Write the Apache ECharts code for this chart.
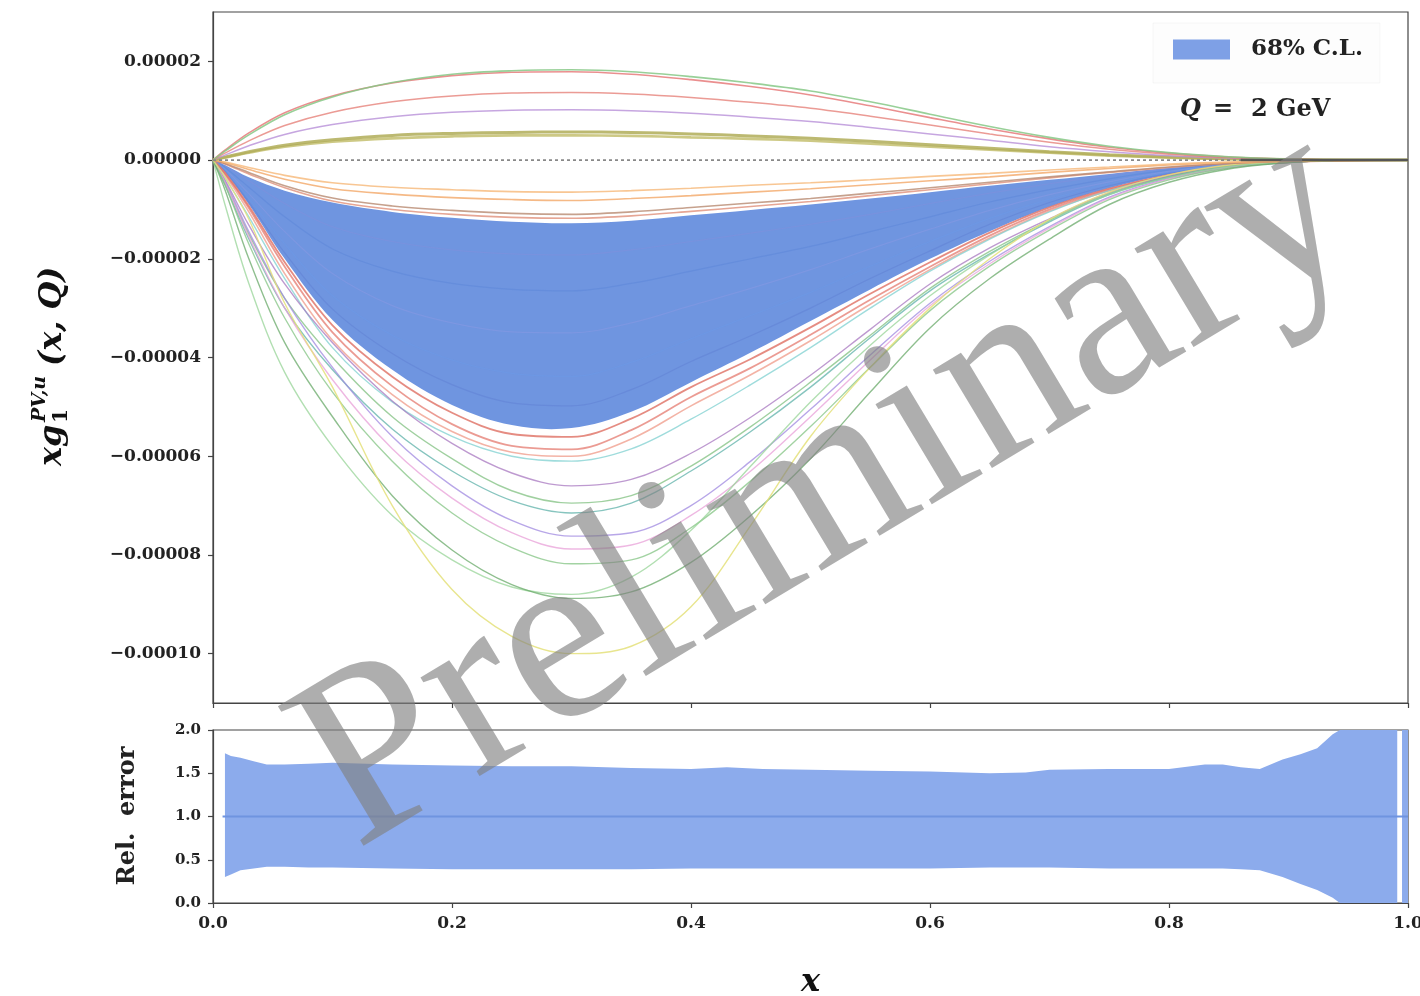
<!DOCTYPE html>
<html><head><meta charset="utf-8">
<script src="https://cdn.jsdelivr.net/npm/echarts@6/dist/echarts.min.js"></script>
<style>html,body{margin:0;padding:0;background:#fff}#c{width:1420px;height:996px}</style>
</head><body><div id="c"></div>
<script>
// ---------- data (top panel values in units of 1e-5) ----------
const X = [0,0.01,0.03,0.06,0.1,0.15,0.2,0.25,0.3,0.35,0.4,0.45,0.5,0.55,0.6,0.65,0.7,0.75,0.8,0.85,0.9,0.95,1.0];
const BAND_LO = [0,-0.25,-0.9,-2.0,-3.24,-4.25,-4.96,-5.37,-5.43,-5.1,-4.5,-3.9,-3.26,-2.62,-2.0,-1.44,-0.95,-0.57,-0.29,-0.12,-0.04,-0.01,0];
const BAND_HI = [0,-0.1,-0.35,-0.62,-0.86,-1.05,-1.17,-1.25,-1.28,-1.23,-1.12,-1.01,-0.9,-0.78,-0.65,-0.52,-0.4,-0.28,-0.16,-0.08,-0.03,-0.01,0];
// replicas inside the band
const B1 = [0,-0.12,-0.42,-0.88,-1.35,-1.65,-1.82,-1.9,-1.92,-1.82,-1.65,-1.48,-1.3,-1.1,-0.88,-0.67,-0.48,-0.31,-0.17,-0.07,-0.02,0,0];
const B2 = [0,-0.15,-0.55,-1.15,-1.8,-2.25,-2.5,-2.62,-2.65,-2.5,-2.25,-2.0,-1.75,-1.45,-1.15,-0.85,-0.6,-0.38,-0.2,-0.08,-0.03,0,0];
const B3 = [0,-0.18,-0.68,-1.45,-2.3,-2.95,-3.3,-3.48,-3.5,-3.3,-2.95,-2.6,-2.22,-1.8,-1.4,-1.02,-0.7,-0.44,-0.23,-0.09,-0.03,0,0];
const B4 = [0,-0.2,-0.78,-1.7,-2.75,-3.55,-4.05,-4.32,-4.38,-4.1,-3.62,-3.15,-2.68,-2.15,-1.65,-1.18,-0.79,-0.48,-0.25,-0.1,-0.03,0,0];
const B5 = [0,-0.23,-0.85,-1.88,-3.02,-3.92,-4.55,-4.92,-4.98,-4.65,-4.08,-3.56,-3.0,-2.4,-1.84,-1.3,-0.86,-0.52,-0.27,-0.11,-0.035,0,0];
// positive outliers
const P1 = [0,0.18,0.51,0.92,1.28,1.57,1.74,1.81,1.83,1.79,1.69,1.56,1.40,1.18,0.93,0.68,0.46,0.28,0.15,0.065,0.02,0,0];
const P2 = [0,0.2,0.55,0.96,1.3,1.56,1.71,1.78,1.79,1.74,1.63,1.49,1.32,1.1,0.86,0.63,0.43,0.26,0.14,0.06,0.02,0,0];
const P3 = [0,0.14,0.39,0.7,0.97,1.18,1.3,1.36,1.37,1.34,1.27,1.17,1.05,0.89,0.71,0.53,0.36,0.22,0.12,0.05,0.015,0,0];
const P4 = [0,0.1,0.29,0.52,0.72,0.88,0.97,1.01,1.02,1.0,0.95,0.87,0.78,0.66,0.53,0.4,0.27,0.17,0.09,0.04,0.01,0,0];
const P5 = [0,0.06,0.17,0.3,0.41,0.5,0.54,0.56,0.57,0.56,0.53,0.49,0.44,0.38,0.31,0.24,0.17,0.11,0.06,0.025,0.01,0,0];
const P6 = [0,0.05,0.15,0.27,0.37,0.44,0.48,0.5,0.5,0.49,0.46,0.43,0.39,0.33,0.27,0.21,0.15,0.09,0.05,0.02,0.01,0,0];
// small negative outliers (above band)
const N1 = [0,-0.04,-0.15,-0.31,-0.46,-0.55,-0.6,-0.64,-0.65,-0.62,-0.57,-0.51,-0.46,-0.4,-0.33,-0.27,-0.2,-0.14,-0.08,-0.04,-0.015,0,0];
const N2 = [0,-0.05,-0.19,-0.39,-0.58,-0.69,-0.76,-0.8,-0.82,-0.78,-0.72,-0.65,-0.58,-0.5,-0.42,-0.34,-0.25,-0.17,-0.1,-0.05,-0.02,0,0];
const N3 = [0,-0.07,-0.25,-0.52,-0.77,-0.93,-1.02,-1.08,-1.1,-1.05,-0.96,-0.87,-0.78,-0.67,-0.56,-0.45,-0.34,-0.24,-0.14,-0.07,-0.025,0,0];
const N4 = [0,-0.08,-0.28,-0.56,-0.83,-1.0,-1.1,-1.16,-1.18,-1.13,-1.04,-0.94,-0.84,-0.72,-0.6,-0.48,-0.36,-0.25,-0.15,-0.07,-0.025,0,0];
// outliers just below the band
const R1 = [0,-0.26,-0.93,-2.07,-3.35,-4.39,-5.12,-5.55,-5.61,-5.24,-4.6,-4.03,-3.39,-2.71,-2.07,-1.47,-0.96,-0.58,-0.3,-0.12,-0.04,-0.01,0];
const R2 = [0,-0.27,-0.97,-2.16,-3.49,-4.58,-5.35,-5.79,-5.86,-5.47,-4.8,-4.21,-3.54,-2.83,-2.16,-1.53,-1.0,-0.6,-0.31,-0.13,-0.04,-0.01,0];
const R3 = [0,-0.3,-1.05,-2.3,-3.65,-4.75,-5.5,-5.92,-6.0,-5.65,-4.98,-4.35,-3.66,-2.92,-2.22,-1.58,-1.03,-0.62,-0.32,-0.13,-0.04,-0.01,0];
// deep outliers
const L0 = [0,-0.35,-1.15,-2.4,-3.8,-4.9,-5.6,-6.0,-6.1,-5.85,-5.25,-4.55,-3.8,-3.0,-2.25,-1.6,-1.05,-0.62,-0.32,-0.13,-0.04,0,0];
const L1 = [0,-0.4,-1.32,-2.51,-3.7,-4.88,-5.74,-6.34,-6.6,-6.47,-5.94,-5.21,-4.36,-3.43,-2.51,-1.78,-1.19,-0.66,-0.33,-0.13,-0.04,0,0];
const L2 = [0,-0.45,-1.5,-2.8,-4.0,-5.2,-6.05,-6.7,-6.95,-6.8,-6.2,-5.4,-4.5,-3.55,-2.6,-1.85,-1.22,-0.68,-0.34,-0.13,-0.04,0,0];
const L3 = [0,-0.5,-1.6,-3.0,-4.25,-5.45,-6.3,-6.9,-7.15,-6.95,-6.3,-5.5,-4.6,-3.6,-2.65,-1.9,-1.25,-0.7,-0.35,-0.14,-0.04,0,0];
const L4 = [0,-0.42,-1.45,-2.8,-4.2,-5.6,-6.6,-7.3,-7.62,-7.55,-7.0,-6.1,-5.05,-3.95,-2.9,-2.05,-1.35,-0.75,-0.37,-0.15,-0.05,0,0];
const L5 = [0,-0.45,-1.55,-3.0,-4.45,-5.85,-6.85,-7.55,-7.88,-7.8,-7.2,-6.3,-5.2,-4.05,-2.95,-2.1,-1.38,-0.77,-0.38,-0.15,-0.05,0,0];
const L6 = [0,-0.5,-1.7,-3.2,-4.7,-6.1,-7.15,-7.85,-8.18,-8.1,-7.45,-6.5,-5.4,-4.2,-3.05,-2.15,-1.42,-0.8,-0.4,-0.16,-0.05,0,0];
const L7 = [0,-0.9,-2.5,-4.3,-5.8,-7.2,-8.1,-8.65,-8.8,-8.45,-7.5,-6.2,-4.9,-3.75,-2.75,-1.92,-1.22,-0.7,-0.35,-0.13,-0.04,0,0];
const L8 = [0,-0.6,-2.0,-3.7,-5.2,-6.8,-7.9,-8.6,-8.88,-8.75,-8.15,-7.2,-6.05,-4.7,-3.4,-2.4,-1.6,-0.9,-0.45,-0.18,-0.05,0,0];
const L9 = [0,-0.35,-1.2,-2.9,-4.6,-7.0,-8.7,-9.65,-10.0,-9.85,-9.05,-7.4,-5.6,-4.2,-3.0,-2.0,-1.2,-0.65,-0.3,-0.1,-0.03,0,0];
const ZERO_X = [0, 1];
const ZERO_Y = [0, 0];
const CONV_X = [0.86, 1];
const CONV_Y = [0, 0];
// bottom panel: relative error band
const REL_X  = [0.01,0.015,0.023,0.034,0.045,0.06,0.08,0.1,0.15,0.2,0.25,0.3,0.35,0.4,0.43,0.46,0.5,0.55,0.6,0.65,0.68,0.7,0.75,0.8,0.83,0.845,0.86,0.876,0.895,0.91,0.924,0.937,0.943,0.96,0.991];
const REL_HI = [1.73,1.70,1.68,1.64,1.60,1.60,1.61,1.62,1.60,1.59,1.58,1.58,1.56,1.55,1.57,1.55,1.54,1.53,1.52,1.50,1.51,1.54,1.55,1.55,1.60,1.60,1.57,1.55,1.66,1.72,1.79,1.95,2.0,2.0,2.0];
const REL_LO = [0.30,0.33,0.38,0.40,0.42,0.42,0.41,0.41,0.40,0.39,0.39,0.39,0.39,0.40,0.40,0.40,0.40,0.40,0.40,0.41,0.41,0.41,0.40,0.40,0.40,0.40,0.39,0.38,0.30,0.22,0.15,0.06,0.0,0.0,0.0];
const REL2_X  = [0.995, 1.0];
const REL2_HI = [2.0, 2.0];
const REL2_LO = [0.0, 0.0];
const CENTER_X = [0.008, 1.0];
const CENTER_Y = [1, 1];
const Y_TICKS = [-10,-8,-6,-4,-2,0,2];
const UNIT = 1e-5;

// ---------- styles ----------
const SERIF = "'DejaVu Serif', serif";
const AX = '#444';
const replicas = [
  [B1,'#7f8fdc',1.2,0.55],[B2,'#5c86d8',1.2,0.55],[B3,'#8a9ae4',1.2,0.5],[B4,'#6b9ae8',1.2,0.5],[B5,'#5f7fd4',1.2,0.5],
  [R3,'#f0a090',1.6,0.8],[R2,'#e88a80',1.8,0.85],[R1,'#e0786c',1.8,0.85],
  [L0,'#7fd0d0',1.4,0.75],[L1,'#a878c0',1.4,0.75],[L2,'#80c080',1.4,0.75],[L3,'#5fb2aa',1.4,0.75],
  [L4,'#a08ae0',1.4,0.75],[L5,'#e8a0d8',1.4,0.75],[L6,'#84c484',1.4,0.75],[L7,'#98d498',1.4,0.75],
  [L8,'#6aaa6a',1.4,0.75],[L9,'#e4e07a',1.4,0.85],
  [N4,'#e0907a',1.6,0.8],[N3,'#b88a70',1.6,0.8],[N2,'#f2a868',1.6,0.8],[N1,'#f6b878',1.6,0.8],
  [P6,'#c4bf70',2.6,0.85],[P5,'#b0ad58',3.0,0.85],[P4,'#b890d8',1.5,0.8],[P3,'#e6827a',1.5,0.8],
  [P2,'#e57373',1.6,0.8],[P1,'#86c886',1.6,0.85]
];
const pts = (xs, ys) => xs.map((x, i) => [x, ys[i]]);
const fmtTop = v => { if (Math.abs(v) < 1e-9) return '0.00000'; const s = Math.abs(v * UNIT).toFixed(5); return v < 0 ? '\u2212' + s : s; };

// band polygon drawn through the axis scales (api.coord)
function bandSeries(xi, yi, xs, lo, hi, color, smooth, name) {
  return {
    type:'custom', name:name, xAxisIndex:xi, yAxisIndex:yi, silent:true, clip:true, z:2,
    itemStyle:{color:color},
    data:[[xs[0], lo[0]]], encode:{x:0, y:1},
    renderItem:(params, api) => {
      const a = xs.map((x, i) => api.coord([x, lo[i]]));
      const b = xs.map((x, i) => api.coord([x, hi[i]])).reverse();
      let points;
      if (lo[0] === hi[0] && lo[lo.length-1] === hi[hi.length-1]) points = a.concat(b.slice(1, b.length - 1));
      else points = a.concat(b);
      return {type:'polygon', shape:{points:points, smooth:smooth}, style:{fill:color}};
    }
  };
}

const series = [];
series.push(bandSeries(0, 0, X, BAND_LO, BAND_HI, '#6f95e0', 0.35, '68% C.L.'));
replicas.forEach(([arr, col, w, op]) => {
  series.push({type:'line', xAxisIndex:0, yAxisIndex:0, data:pts(X, arr), symbol:'none', smooth:0.35,
    lineStyle:{color:col, width:w, opacity:op}, silent:true, z:3});
});
series.push({type:'line', xAxisIndex:0, yAxisIndex:0, data:pts(ZERO_X, ZERO_Y), symbol:'none', lineStyle:{color:'#888', width:1.8, type:[3,3]}, silent:true, z:4});
series.push({type:'line', xAxisIndex:0, yAxisIndex:0, data:pts(CONV_X, CONV_Y), symbol:'none', lineStyle:{color:'#555', width:2.5}, silent:true, z:4});
// bottom panel
series.push(bandSeries(1, 1, REL_X, REL_LO, REL_HI, '#8cabec', 0, 'rel'));
series.push(bandSeries(1, 1, REL2_X, REL2_LO, REL2_HI, '#8cabec', 0, 'rel2'));
series.push({type:'line', xAxisIndex:1, yAxisIndex:1, data:pts(CENTER_X, CENTER_Y), symbol:'none', lineStyle:{color:'#6f94e0', width:2.2}, silent:true, z:4});

const tickStyle = {show:true, length:5, lineStyle:{color:AX, width:1.2}};
const lineStyle = {show:true, onZero:false, lineStyle:{color:AX, width:1.2}};
const txt = (x, y, text, font, align) => ({type:'text', x:x, y:y, style:{text:text, font:font, fill:'#222', textAlign:align||'left', textVerticalAlign:'middle', align:align||'left', verticalAlign:'middle'}});

const option = {
  animation:false,
  backgroundColor:'#fff',
  grid:[
    {left:213, right:12, top:12, height:691, show:true, borderColor:AX, borderWidth:1.2, backgroundColor:'transparent', outerBoundsMode:'none', containLabel:false},
    {left:213, right:12, top:730, height:173, show:true, borderColor:AX, borderWidth:1.2, backgroundColor:'transparent', outerBoundsMode:'none', containLabel:false}
  ],
  xAxis:[
    {type:'value', gridIndex:0, min:0, max:1, interval:0.2, axisLine:lineStyle, axisTick:tickStyle, axisLabel:{show:false}, splitLine:{show:false}},
    {type:'value', gridIndex:1, min:0, max:1, interval:0.2, axisLine:lineStyle, axisTick:tickStyle, splitLine:{show:false},
      axisLabel:{margin:12, fontFamily:SERIF, fontWeight:'bold', fontSize:17, color:'#222', formatter:v=>v.toFixed(1), showMaxLabel:true},
      name:'x', nameLocation:'middle', nameGap:64, nameTextStyle:{fontFamily:SERIF, fontStyle:'italic', fontWeight:'bold', fontSize:32, color:'#111'}}
  ],
  yAxis:[
    {type:'value', gridIndex:0, min:-11, max:3, axisLine:lineStyle, splitLine:{show:false},
      axisTick:Object.assign({customValues:Y_TICKS}, tickStyle),
      axisLabel:{customValues:Y_TICKS, margin:12, fontFamily:SERIF, fontWeight:'bold', fontSize:17, color:'#222', formatter:fmtTop}},
    {type:'value', gridIndex:1, min:0, max:2, interval:0.5, axisLine:lineStyle, axisTick:tickStyle, splitLine:{show:false},
      axisLabel:{margin:12, fontFamily:SERIF, fontWeight:'bold', fontSize:15, color:'#222', formatter:v=>v.toFixed(1)}}
  ],
  legend:{
    data:[{name:'68% C.L.', icon:'rect', itemStyle:{color:'#7ea0e6'}}], selectedMode:false, left:1153, top:23, orient:'vertical',
    itemWidth:57, itemHeight:20, padding:[15,17,22,20], backgroundColor:'rgba(252,252,252,0.8)', borderColor:'rgba(0,0,0,0.03)', borderWidth:1,
    textStyle:{fontFamily:SERIF, fontWeight:'bold', fontSize:23, color:'#222', padding:[0,0,0,16]}
  },
  graphic:[
    txt(1180, 110, 'Q', "italic bold 24px 'DejaVu Serif'"),
    txt(1213, 110, '=', "bold 24px 'DejaVu Serif'"),
    txt(1251, 110, '2 GeV', "bold 24px 'DejaVu Serif'"),
    {type:'text', x:128, y:816, rotation:Math.PI/2, style:{text:'Rel.  error', font:"bold 24px 'DejaVu Serif'", fill:'#222', textAlign:'center', textVerticalAlign:'middle', align:'center', verticalAlign:'middle'}},
    {type:'group', x:53, y:360, rotation:Math.PI/2, children:[
      {type:'text', x:-106, y:0, style:{text:'xg', font:"italic bold 32px 'DejaVu Serif'", fill:'#111', textAlign:'left', textVerticalAlign:'middle', align:'left', verticalAlign:'middle'}},
      {type:'text', x:-63, y:9, style:{text:'1', font:"bold 20px 'DejaVu Serif'", fill:'#111', textAlign:'left', textVerticalAlign:'middle', align:'left', verticalAlign:'middle'}},
      {type:'text', x:-62, y:-13, style:{text:'PV,u', font:"italic bold 19px 'DejaVu Serif'", fill:'#111', textAlign:'left', textVerticalAlign:'middle', align:'left', verticalAlign:'middle'}},
      {type:'text', x:-6, y:0, style:{text:'(x, Q)', font:"italic bold 32px 'DejaVu Serif'", fill:'#111', textAlign:'left', textVerticalAlign:'middle', align:'left', verticalAlign:'middle'}}
    ]},
    {type:'text', x:828, y:490, rotation:31*Math.PI/180, z:100, silent:true,
      style:{text:'Preliminary', font:"250px 'Liberation Serif'", fill:'rgba(128,128,128,0.64)', textAlign:'center', textVerticalAlign:'middle', align:'center', verticalAlign:'middle'}}
  ],
  series:series
};
const chart = echarts.init(document.getElementById('c'), null, {renderer:'canvas'});
chart.setOption(option);
</script></body></html>
